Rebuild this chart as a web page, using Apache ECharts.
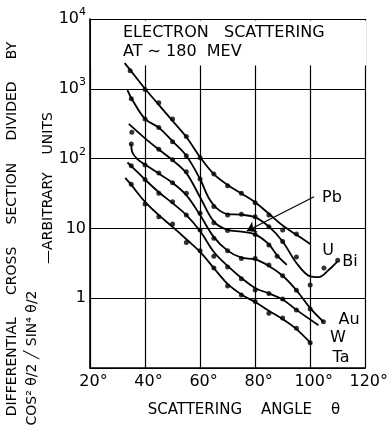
<!DOCTYPE html>
<html>
<head>
<meta charset="utf-8">
<script src="https://cdn.jsdelivr.net/npm/echarts@6/dist/echarts.min.js"></script>
<style>
  html, body { margin: 0; padding: 0; background: #fff; }
  #chart { width: 391px; height: 427px; }
</style>
</head>
<body>
<div id="chart"></div>
<script>
var xTicks = [20, 40, 60, 80, 100, 120];
var yTicks = [0.1, 1, 10, 100, 1000, 10000];

// fitted curves (angle, value)
var uCurve = [[32.6,2330],[35,1780],[40,1000],[45,590],[50,347],[55,204],[60,105],[65,60],[70,42],[75,31.6],[80,23.7],[85,16.2],[90,11],[95,8.1],[100,6]];
var biCurve = [[33.6,960],[35.2,716],[40,370],[45,278],[50,177],[55,110],[60,51],[63,28],[66,19.5],[70,16],[75,15.7],[80,14.4],[85,10.6],[90,6.5],[95,3.2],[100,2.05],[103,2.0],[107,2.6],[110,3.4]];
var pbCurve = [[34.1,314],[40,195],[45,135],[50,95],[55,62],[60,28],[65,12.5],[70,9.5],[75,9.0],[80,8.2],[85,5.9],[88,4.1],[91.5,3.0]];
var auCurve = [[35,162],[35.3,125],[37,100],[40,82],[45,61],[50,45],[55,30],[60,15.5],[65,7.5],[70,4.8],[75,3.8],[80,3.6],[85,2.9],[90,2.1],[95,1.3],[100,0.72],[104.8,0.46]];
var wCurve = [[33.6,88],[35,78],[40,50],[45,33],[50,23],[55,15.5],[60,9.2],[65,4.6],[70,2.9],[75,1.95],[80,1.4],[85,1.17],[90,0.96],[95,0.68],[103,0.41]];
var taCurve = [[32.8,53],[35,42],[40,24],[45,15.5],[50,10.5],[55,7],[60,4.6],[65,2.7],[70,1.6],[75,1.13],[80,0.88],[85,0.66],[90,0.5],[95,0.36],[100.5,0.22]];

// measured points
var uDots = [[34.6,1820],[40,980],[45,630],[50,370],[55,207],[60,103],[65,60],[70,41],[75,32],[80,23.4],[85,15.6],[90,9.5],[95,8.3]];
var biDots = [[35,720],[40,370],[45,278],[50,175],[55,110],[60,51],[65,20.6],[70,15.6],[75,15.9],[80,14.7],[85,10.6],[90,6.5],[95,3.9],[100,1.55],[105,2.7],[110,3.5]];
var pbDots = [[35.2,239],[45,136],[50,96],[55,65],[65,12],[70,9.3],[80,8.2],[85,5.8],[88,4.0]];
var auDots = [[35,162],[40,81],[45,62],[50,45],[55,32],[60,16.5],[65,7.2],[70,4.8],[75,3.7],[80,3.7],[85,3.0],[90,2.1],[95,1.3],[100,0.7],[104.8,0.46]];
var wDots = [[35,79],[40,50],[45,32],[50,24],[55,15.6],[60,9.5],[65,4.0],[70,2.8],[75,1.9],[80,1.31],[85,1.17],[90,0.97],[95,0.68]];
var taDots = [[35,43],[40,22.4],[45,14.7],[50,11.6],[55,6.3],[60,4.8],[65,2.7],[70,1.5],[75,1.11],[80,0.9],[85,0.61],[90,0.52],[95,0.37],[100,0.23]];

var font = 'DejaVu Sans';

function curve(data) {
    return {
        type: 'line', data: data, smooth: 0.35, showSymbol: false,
        lineStyle: { color: '#000', width: 1.8 }, z: 3
    };
}
function dots(data) {
    return {
        type: 'scatter', data: data, symbolSize: 5,
        itemStyle: { color: '#000' }, z: 4
    };
}
function label(text, x, y, size, rot) {
    return {
        type: 'text', x: x, y: y, rotation: rot || 0, z: 5,
        style: { text: text, font: size + 'px ' + font, fill: '#000', textAlign: 'center', textVerticalAlign: 'middle' }
    };
}

var chart = echarts.init(document.getElementById('chart'));
var pbLine = curve(pbCurve);
pbLine.markLine = {
    silent: true,
    symbol: ['none', 'arrow'],
    symbolSize: 9,
    label: { show: false },
    lineStyle: { color: '#000', width: 1.1, type: 'solid' },
    data: [[{ coord: [101.4, 28.3] }, { coord: [77, 9.2] }]]
};

var option = {
    animation: false,
    backgroundColor: '#fff',
    grid: { left: 90, right: 23.5, top: 19, bottom: 59 },
    xAxis: {
        type: 'value', min: 20, max: 120, interval: 20,
        axisLine: { lineStyle: { color: '#000', width: 1.6 } },
        axisTick: { show: false },
        splitLine: { lineStyle: { color: '#000', width: 1.2 } },
        axisLabel: {
            color: '#000', fontFamily: font, fontSize: 16, margin: 6,
            padding: [0, 0, 0, 7],
            formatter: function (v) { return v + '°'; }
        }
    },
    yAxis: {
        type: 'log', logBase: 10, min: 0.1, max: 10000,
        axisLine: { lineStyle: { color: '#000', width: 1.6 } },
        axisTick: { show: false },
        splitLine: { lineStyle: { color: '#000', width: 1.2 } },
        axisLabel: {
            color: '#000', fontFamily: font, fontSize: 16, margin: 4,
            formatter: function (v) {
                if (v >= 100) return '10{s|' + Math.round(Math.log10(v)) + '}';
                if (v < 0.5) return '';
                return String(Math.round(v));
            },
            rich: {
                s: { fontSize: 11, fontFamily: font, color: '#000', padding: [0, 0, 13, 0] }
            }
        }
    },
    graphic: [
        { type: 'rect', shape: { x: 91, y: 20.5, width: 275, height: 45 }, style: { fill: '#fff' }, z: 1 },
        { type: 'text', x: 123, y: 33, z: 5, style: { text: 'ELECTRON   SCATTERING', font: '16px ' + font, fill: '#000', textVerticalAlign: 'middle' } },
        { type: 'text', x: 123, y: 52, z: 5, style: { text: 'AT ∼ 180  MEV', font: '16px ' + font, fill: '#000', textVerticalAlign: 'middle' } },
        label('Pb', 332, 198, 16),
        label('U', 328, 251, 16),
        label('Bi', 350, 262, 16),
        label('Au', 349, 320, 16),
        label('W', 338, 338, 16),
        label('Ta', 341, 358, 16),
        label('SCATTERING    ANGLE    θ', 244, 410, 15),
        label('DIFFERENTIAL     CROSS     SECTION     DIVIDED     BY', 12, 229, 14, Math.PI / 2),
        label('—ARBITRARY    UNITS', 48, 188, 14, Math.PI / 2),
        label('COS² θ/2 ╱ SIN⁴ θ/2', 32, 358, 14, Math.PI / 2)
    ],
    series: [
        curve(uCurve), curve(biCurve), pbLine, curve(auCurve), curve(wCurve), curve(taCurve),
        dots(uDots), dots(biDots), dots(pbDots), dots(auDots), dots(wDots), dots(taDots)
    ]
};
chart.setOption(option);
</script>
</body>
</html>
